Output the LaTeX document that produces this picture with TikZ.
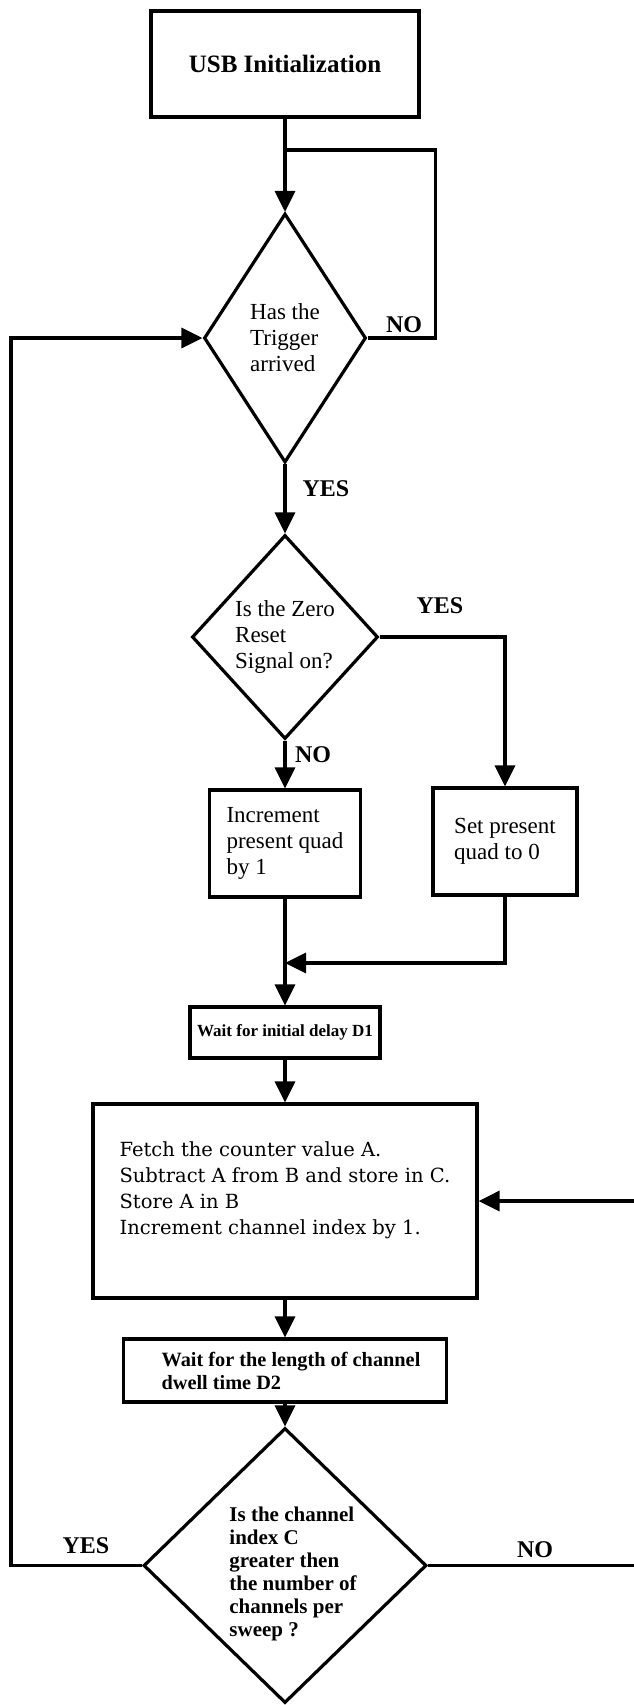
\documentclass[tikz,border=0pt]{standalone}
\usepackage{fontspec}
\setmainfont{Liberation Serif}
\newfontfamily\fetchfont{DejaVu Serif}
\usetikzlibrary{shapes.geometric,arrows.meta}
\begin{document}
\begin{tikzpicture}[x=1pt,y=-1pt,
  line width=3.2pt,
  box/.style={draw,rectangle,inner sep=0pt,align=left,font=\fontsize{23}{26}\selectfont},
  dec/.style={draw,diamond,inner sep=0pt,align=left,font=\fontsize{23}{26}\selectfont},
  arr/.style={-{Triangle[length=21pt,width=20pt]}},
  lbl/.style={font=\bfseries\fontsize{24}{24}\selectfont,inner sep=0pt}]
\useasboundingbox (0,0) rectangle (634,1705);

\node[box,minimum width=268pt,minimum height=106pt,font=\bfseries\fontsize{25}{28}\selectfont] (usb) at (285,64) {USB Initialization};
\node[dec,minimum width=162pt,minimum height=249pt] (d1) at (285,338) {Has the\\Trigger\\arrived};
\node[dec,minimum width=186pt,minimum height=204pt] (d2) at (285,637) {Is the Zero\\Reset\\Signal on?};
\node[box,minimum width=151pt,minimum height=107pt] (inc) at (285,843.5) {Increment\\present quad\\by 1};
\node[box,minimum width=144pt,minimum height=107pt] (set) at (505,841.5) {Set present\\quad to 0};
\node[box,minimum width=190pt,minimum height=51pt,font=\bfseries\fontsize{17}{20}\selectfont] (wd1) at (285,1032.5) {Wait for initial delay D1};
\node[box,minimum width=384pt,minimum height=194pt,font=\fetchfont\fontsize{19.5}{26}\selectfont] (fetch) at (285,1201) {Fetch the counter value A.\\Subtract A from B and store in C.\\Store A in B\\Increment channel index by 1.\\\mbox{}};
\node[box,minimum width=323pt,minimum height=63pt,font=\bfseries\fontsize{20.3}{23}\selectfont] (wd2) at (285,1370.5) {\hspace*{12pt}Wait for the length of channel\\\hspace*{12pt}dwell time D2};
\node[dec,minimum width=283pt,minimum height=275pt] (d3) at (285,1565.5) {};
\node[inner sep=0pt,align=left,font=\bfseries\fontsize{21}{23}\selectfont] (d3text) at (293,1574) {Is the channel\\index C\\greater then\\the number of\\channels per\\sweep ?};

\coordinate (j1) at (285,150);
\coordinate (m1) at (285,963);

\draw[arr] (usb.south) -- (d1.north);
\draw (d1.east) -- ++(68,0) |- (j1);
\draw[arr] (d1.south) -- (d2.north);
\draw[arr] (d2.south) -- (inc.north);
\draw[arr] (d2.east) -| (set.north);
\draw[arr] (inc.south) -- (wd1.north);
\draw[arr] (set.south) |- (m1);
\draw[arr] (wd1.south) -- (fetch.north);
\draw[arr] (fetch.south) -- (wd2.north);
\draw[arr] (wd2.south) -- (d3.north);
\draw[arr] (d3.west) -- (11,1565.5) |- (d1.west);
\draw[arr] (d3.east) -- (650,1565.5) |- (fetch.east);

\node[lbl] (no1) at (404,325) {NO};
\node[lbl] (yes1) at (326,489) {YES};
\node[lbl] (yes2) at (440,606) {YES};
\node[lbl] (no2) at (313,755) {NO};
\node[lbl] (yes3) at (86,1546) {YES};
\node[lbl] (no3) at (535,1550) {NO};
\end{tikzpicture}
\end{document}
